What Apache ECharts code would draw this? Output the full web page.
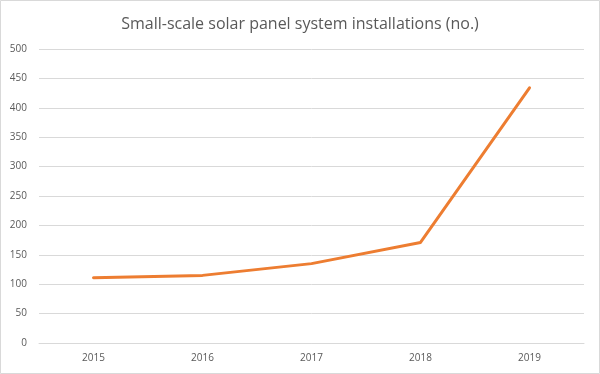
<!DOCTYPE html>
<html><head><meta charset="utf-8">
<script src="https://cdn.jsdelivr.net/npm/echarts@6/dist/echarts.min.js"></script>
<style>html,body{margin:0;padding:0;background:#fff}#c{width:600px;height:374px}</style>
</head><body><div id="c"></div>
<script>
const categories = ['2015','2016','2017','2018','2019'];
const installations = [111, 115, 135, 171, 434];
const yTicks = {min: 0, max: 500, interval: 50};

const chart = echarts.init(document.getElementById('c'), null, {renderer: 'canvas'});
chart.setOption({
  animation: false,
  backgroundColor: '#fff',
  graphic: [{type: 'rect', shape: {x: 0.5, y: 0.5, width: 599, height: 373}, style: {fill: 'none', stroke: '#d9d9d9', lineWidth: 1}, silent: true}],
  title: {
    text: 'Small-scale solar panel system installations (no.)',
    left: 'center', top: 11,
    textStyle: {fontFamily: 'Open Sans', fontWeight: 'normal', fontSize: 16, color: '#595959'}
  },
  grid: {left: 39, right: 16, top: 49, bottom: 31, containLabel: false},
  xAxis: {
    type: 'category', data: categories, boundaryGap: true,
    axisLine: {show: true, lineStyle: {color: '#d9d9d9'}},
    axisTick: {show: false},
    axisLabel: {color: '#595959', fontFamily: 'Open Sans', fontSize: 10, margin: 10}
  },
  yAxis: {
    type: 'value', min: yTicks.min, max: yTicks.max, interval: yTicks.interval,
    axisLine: {show: false}, axisTick: {show: false},
    splitLine: {lineStyle: {color: '#d9d9d9'}},
    axisLabel: {color: '#595959', fontFamily: 'Open Sans', fontSize: 10, margin: 12}
  },
  series: [{
    type: 'line', data: installations, symbol: 'none',
    lineStyle: {color: '#ED7D31', width: 3, cap: 'round', join: 'round'}
  }]
});
</script></body></html>
